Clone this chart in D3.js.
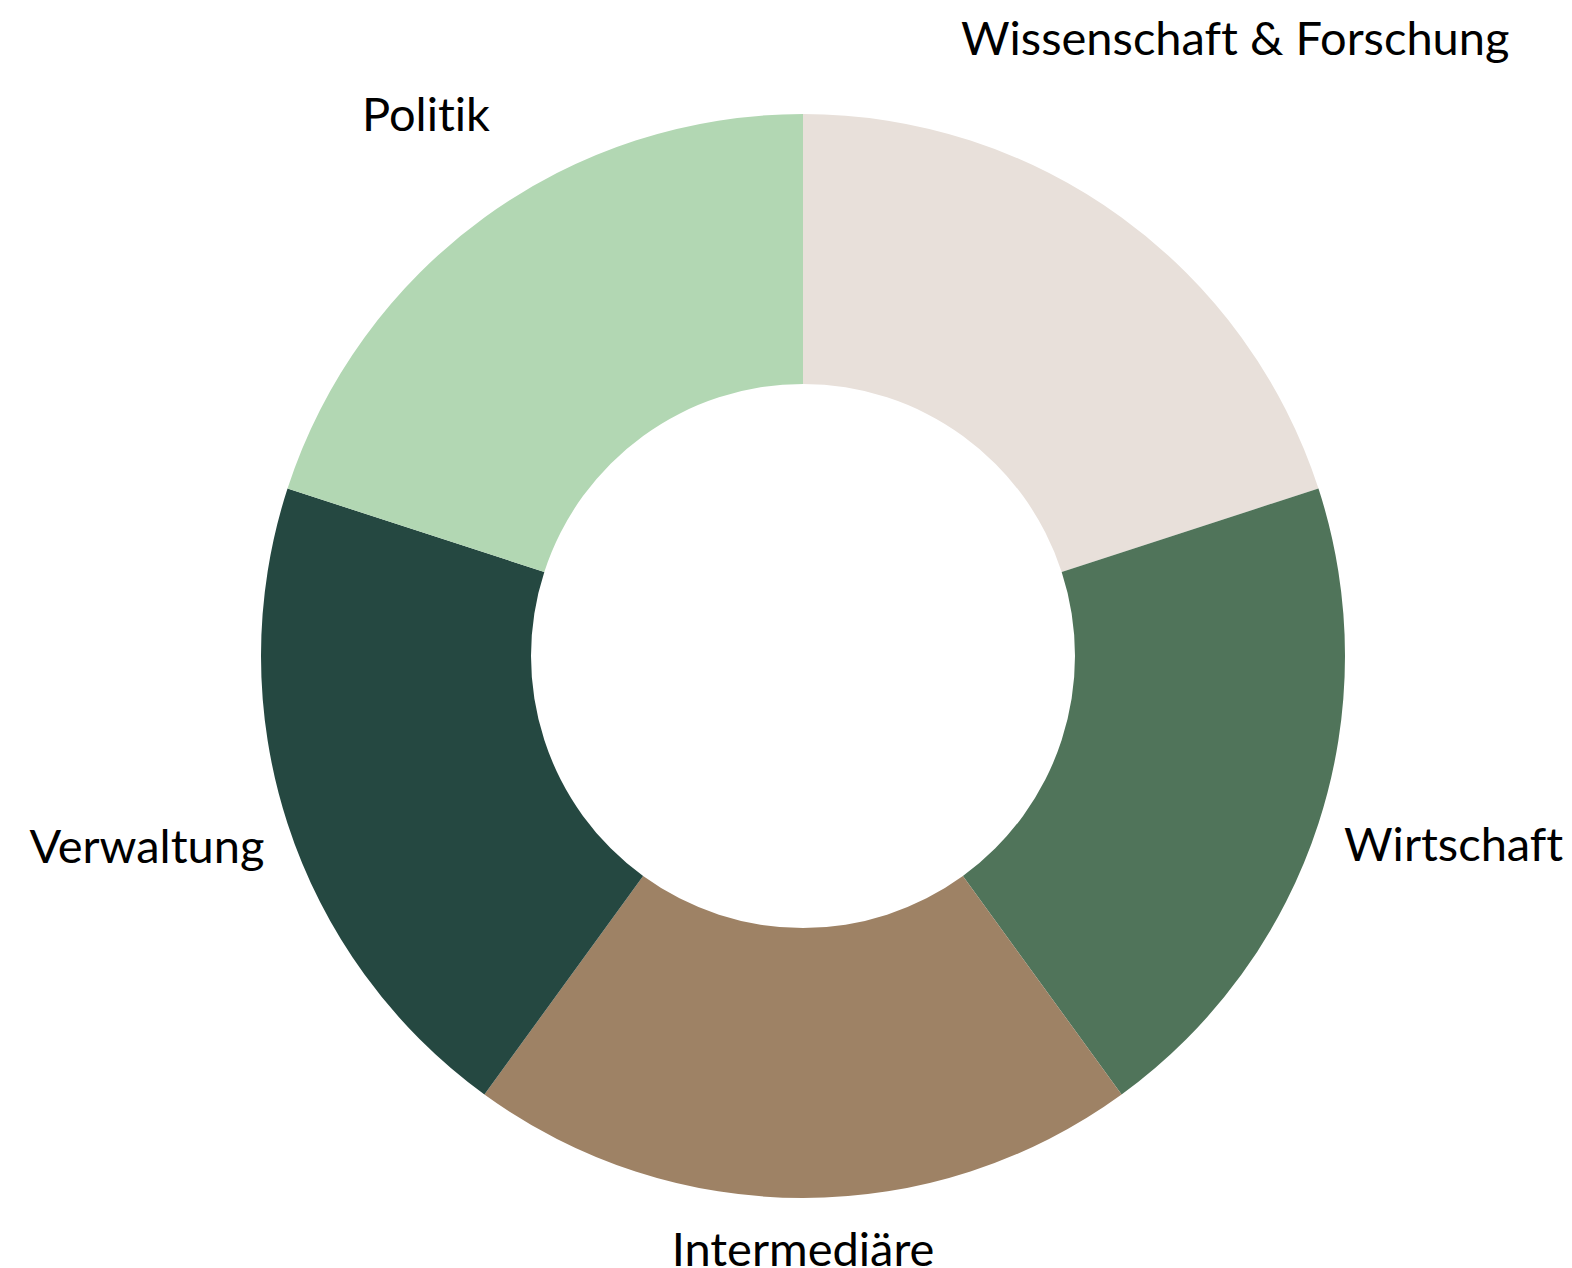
<!DOCTYPE html>
<html>
<head>
<meta charset="utf-8">
<script src="https://cdn.jsdelivr.net/npm/d3@7"></script>
<style>
  body { margin: 0; background: #fff; }
  svg text { font-family: Lato, "Open Sans", sans-serif; fill: #000; font-variant-ligatures: none; }
</style>
</head>
<body>
<svg id="chart" width="1572" height="1268"></svg>
<script>
// five stakeholder groups, equal share each
var categories = ["Wissenschaft & Forschung", "Wirtschaft", "Intermediäre", "Verwaltung", "Politik"];
var values = [1, 1, 1, 1, 1];
var colors = ["#e8e0da", "#50745a", "#9e8265", "#254841", "#b2d7b3"];

var width = 1572, height = 1268;
var cx = 803, cy = 656;
var outerR = 542, innerR = 272;
var fontSize = 47;

var svg = d3.select("#chart");
var g = svg.append("g").attr("transform", "translate(" + cx + "," + cy + ")");

var pie = d3.pie().sort(null).value(function(d, i) { return values[i]; });
var arc = d3.arc().innerRadius(innerR).outerRadius(outerR);
var color = d3.scaleOrdinal().domain(categories).range(colors);

var arcs = pie(categories);

g.selectAll("path")
  .data(arcs)
  .enter().append("path")
  .attr("d", arc)
  .attr("fill", function(d) { return color(d.data); });

// labels outside the ring, along the mid angle, further out for wide text
var labels = g.selectAll("text.lbl")
  .data(arcs)
  .enter().append("text")
  .attr("class", "lbl")
  .attr("text-anchor", "middle")
  .attr("dominant-baseline", "central")
  .style("font-size", fontSize + "px")
  .text(function(d) { return d.data; });

labels.each(function(d) {
  var w = this.getComputedTextLength();
  var a = (d.startAngle + d.endAngle) / 2;
  var s = Math.sin(a), c = Math.cos(a);
  var r = outerR + 58 + 0.38 * w * Math.abs(s) + 16 * Math.abs(c);
  d3.select(this).attr("x", r * s).attr("y", -r * c - 24);
});
</script>
</body>
</html>
